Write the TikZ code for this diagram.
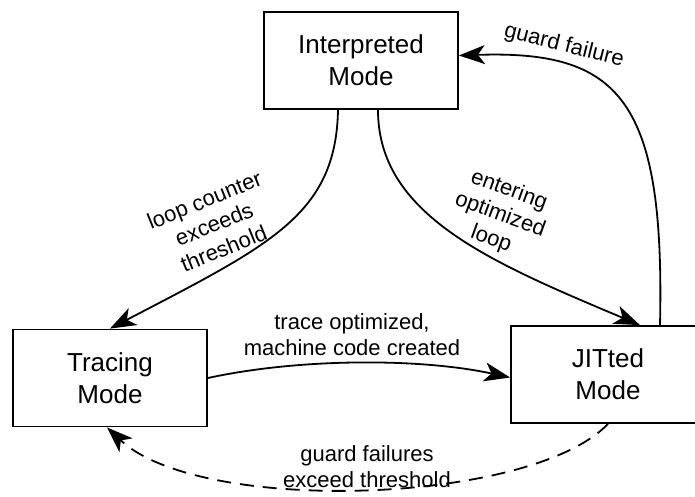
\documentclass[tikz,border=0pt]{standalone}
\usepackage{fontspec}
\setmainfont{Liberation Sans}
\usetikzlibrary{arrows.meta}
\begin{document}
\begin{tikzpicture}[x=1pt,y=-1pt,
  modebox/.style={draw, line width=1.8pt, minimum width=194pt, minimum height=97pt, inner sep=0pt, align=center, font=\fontsize{26}{32}\selectfont},
  lbl/.style={align=center, inner sep=0pt, font=\fontsize{22}{26}\selectfont},
  conn/.style={line width=1.8pt, -{Stealth[length=26pt,width=19pt,inset=7pt]}},
  dconn/.style={conn, dash pattern=on 14pt off 9pt}]
\useasboundingbox (0,0) rectangle (695,496);
\node[modebox] (I) at (361,60.5) {Interpreted\\Mode};
\node[modebox] (T) at (110,378) {Tracing\\Mode};
\node[modebox] (J) at (608,374.5) {JITted\\Mode};

\draw[conn] ([xshift=-23pt]I.south) .. controls (336,215) and (270,245) .. (T.north);
\draw[conn] ([xshift=17pt]I.south) .. controls (378,215) and (490,262) .. ([xshift=32pt]J.north);
\draw[conn] ([xshift=52pt]J.north) .. controls (665,100) and (620,50) .. ([yshift=5pt]I.east);
\draw[conn] (T.east) .. controls (300,358) and (420,358) .. ([yshift=-3pt]J.west);
\draw[dconn] (J.south) .. controls (530,505) and (200,515) .. ([xshift=-3pt]T.south);

\node[lbl, rotate=-14] (lg) at (564,46) {guard failure};
\node[lbl, rotate=22] (ll) at (214,224) {loop counter\\exceeds\\threshold};
\node[lbl, rotate=-20] (le) at (500,215) {entering\\optimized\\loop};
\node[lbl] (lt) at (352,335) {trace optimized,\\machine code created};
\node[lbl] (lf) at (367,467) {guard failures\\exceed threshold};
\end{tikzpicture}
\end{document}
